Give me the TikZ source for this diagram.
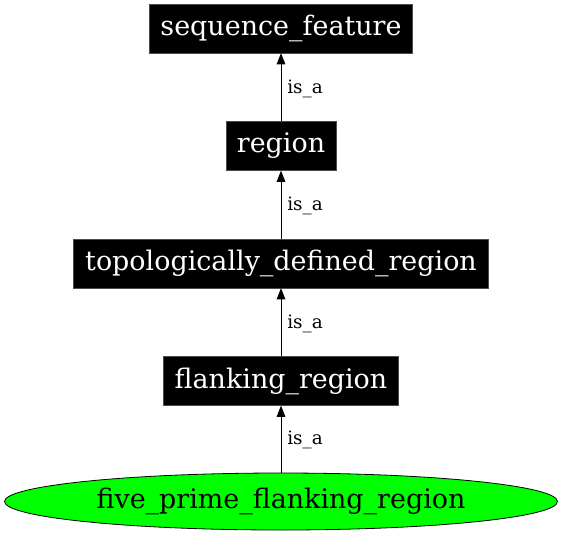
\documentclass[tikz,border=0pt]{standalone}
\usepackage{fontspec}
\setmainfont{DejaVu Serif}
\usetikzlibrary{arrows.meta,shapes.geometric}
\begin{document}
\begin{tikzpicture}[x=0.75pt,y=-0.75pt,
  term/.style={rectangle,fill=black,draw=black!70,text=white,inner sep=0pt,
    font=\fontsize{20.2pt}{23pt}\selectfont,minimum height=36.5pt},
  leaf/.style={ellipse,fill=green,draw=black,line width=0.6pt,inner sep=0pt,
    font=\fontsize{20.2pt}{23pt}\selectfont,minimum width=414.75pt,minimum height=42.75pt},
  isa/.style={-{Triangle[length=8.5pt,width=6.5pt]},line width=0.7pt},
  lbl/.style={font=\fontsize{13.8pt}{16pt}\selectfont,anchor=west,inner sep=0pt}]
\useasboundingbox (0,0) rectangle (563,536);
\node[term,minimum width=197.25pt] (sf) at (281,28.5) {sequence\_feature};
\node[term,minimum width=82.5pt] (rg) at (281,146) {region};
\node[term,minimum width=311.25pt] (tdr) at (281,263.5) {topologically\_defined\_region};
\node[term,minimum width=176.25pt] (fr) at (281,381) {flanking\_region};
\node[leaf] (fpfr) at (281,501.5) {five\_prime\_flanking\_region};
\draw[isa] (rg) -- (sf);
\draw[isa] (tdr) -- (rg);
\draw[isa] (fr) -- (tdr);
\draw[isa] (fpfr.north) -- (fr);
\node[lbl] (l1) at (287,88.5) {is\_a};
\node[lbl] (l2) at (287,205.5) {is\_a};
\node[lbl] (l3) at (287,323.5) {is\_a};
\node[lbl] (l4) at (287,439.5) {is\_a};
\end{tikzpicture}
\end{document}
